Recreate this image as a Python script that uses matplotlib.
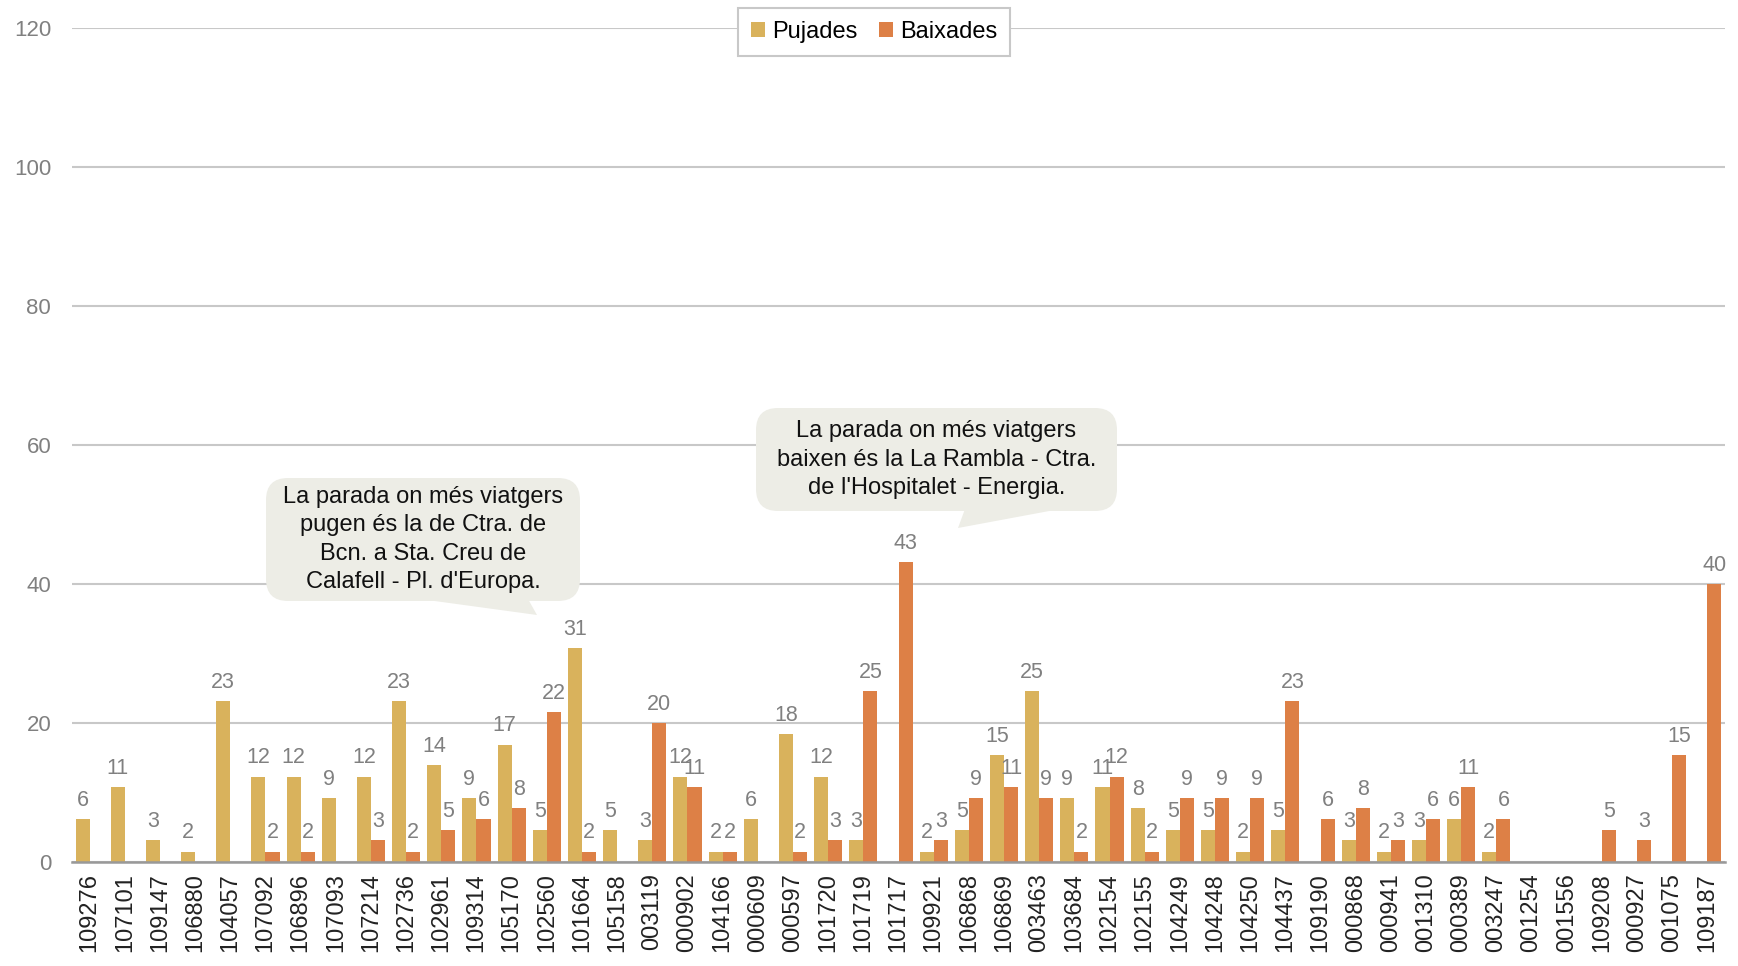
import numpy as np
import matplotlib
matplotlib.use('Agg')
import matplotlib.pyplot as plt
from matplotlib.patches import FancyBboxPatch, Polygon

plt.rcParams['font.family'] = ['Liberation Sans', 'DejaVu Sans']

parades = ['109276', '107101', '109147', '106880', '104057', '107092', '106896', '107093',
           '107214', '102736', '102961', '109314', '105170', '102560', '101664', '105158',
           '003119', '000902', '104166', '000609', '000597', '101720', '101719', '101717',
           '109921', '106868', '106869', '003463', '103684', '102154', '102155', '104249',
           '104248', '104250', '104437', '109190', '000868', '000941', '001310', '000389',
           '003247', '001254', '001556', '109208', '000927', '001075', '109187']

pujades = [6.2, 10.8, 3.1, 1.5, 23.1, 12.3, 12.3, 9.2,
           12.3, 23.1, 13.9, 9.2, 16.9, 4.6, 30.8, 4.6,
           3.1, 12.3, 1.5, 6.2, 18.4, 12.3, 3.1, 0,
           1.5, 4.6, 15.4, 24.6, 9.2, 10.8, 7.7, 4.6,
           4.6, 1.5, 4.6, 0, 3.1, 1.5, 3.1, 6.2,
           1.5, 0, 0, 0, 0, 0, 0]

baixades = [0, 0, 0, 0, 0, 1.5, 1.5, 0,
            3.1, 1.5, 4.6, 6.2, 7.7, 21.6, 1.5, 0,
            20.0, 10.8, 1.5, 0, 1.5, 3.1, 24.6, 43.1,
            3.1, 9.2, 10.8, 9.2, 1.5, 12.3, 1.5, 9.2,
            9.2, 9.2, 23.1, 6.2, 7.7, 3.1, 6.2, 10.8,
            6.2, 0, 0, 4.6, 3.1, 15.4, 40.0]

nota_pujades = "La parada on més viatgers\npugen és la de Ctra. de\nBcn. a Sta. Creu de\nCalafell - Pl. d'Europa."
nota_baixades = "La parada on més viatgers\nbaixen és la La Rambla - Ctra.\nde l'Hospitalet - Energia."

W, H = 1738, 966
fig = plt.figure(figsize=(W / 100, H / 100), dpi=100)
ax = fig.add_axes([72 / W, 1 - 862 / H, (1725 - 72) / W, (862 - 28) / H])

x = np.arange(len(parades))
w = 0.4
b1 = ax.bar(x - w / 2, pujades, w, color='#D9B25C', label='Pujades', zorder=3)
b2 = ax.bar(x + w / 2, baixades, w, color='#DD8046', label='Baixades', zorder=3)

for bars, vals in [(b1, pujades), (b2, baixades)]:
    labs = ['' if v == 0 else '%d' % int(v + 0.5) for v in vals]
    ax.bar_label(bars, labels=labs, padding=6, fontsize=15.5, color='#808080')

ax.set_xlim(-0.5, len(parades) - 0.5)
ax.set_ylim(0, 120)
ax.set_yticks(range(0, 121, 20))
ax.set_xticks(x)
ax.set_xticklabels(parades, rotation=90, fontsize=17, color='#222222')
ax.tick_params(axis='y', length=0, pad=15, labelsize=16, labelcolor='#808080')
ax.tick_params(axis='x', length=0, pad=8)
ax.grid(axis='y', color='#c8c8c8', linewidth=1.5, zorder=0)
for s in ['top', 'right', 'left']:
    ax.spines[s].set_visible(False)
ax.spines['bottom'].set_color('#999999')
ax.spines['bottom'].set_linewidth(1.8)
ax.spines['bottom'].set_zorder(4)

leg = ax.legend(loc='upper center', bbox_to_anchor=(874 / W, 1 - 8 / H), bbox_transform=fig.transFigure,
                ncol=2, fontsize=17, frameon=True, fancybox=False, framealpha=1,
                edgecolor='#c8c8c8', handlelength=0.6, handleheight=0.6, handletextpad=0.3,
                columnspacing=0.9, borderpad=0.55, borderaxespad=0)
leg.get_frame().set_linewidth(1.5)


def px(xp, yp):
    return (xp / W, 1 - yp / H)


def callout(x0, y0, x1, y1, punta, text):
    fill = '#EDEDE6'
    r = 22
    box = FancyBboxPatch(px(x0, y1), (x1 - x0) / W, (y1 - y0) / H,
                         boxstyle='round,pad=0,rounding_size=%f' % (r / W),
                         mutation_aspect=W / H, transform=fig.transFigure,
                         facecolor=fill, edgecolor='none', zorder=5)
    fig.add_artist(box)
    tri = Polygon([px(*p) for p in punta], closed=True, transform=fig.transFigure,
                  facecolor=fill, edgecolor='none', zorder=5)
    fig.add_artist(tri)
    fig.text((x0 + x1) / 2 / W, 1 - (y0 + y1) / 2 / H, text, ha='center', va='center',
             fontsize=17, color='#111111', linespacing=1.36, zorder=6)


callout(266, 478, 580, 601, [(420, 599), (528, 599), (537, 615)], nota_pujades)
callout(756, 408, 1117, 511, [(965, 509), (1060, 509), (958, 528)], nota_baixades)

fig.savefig('out.png', dpi=100)
